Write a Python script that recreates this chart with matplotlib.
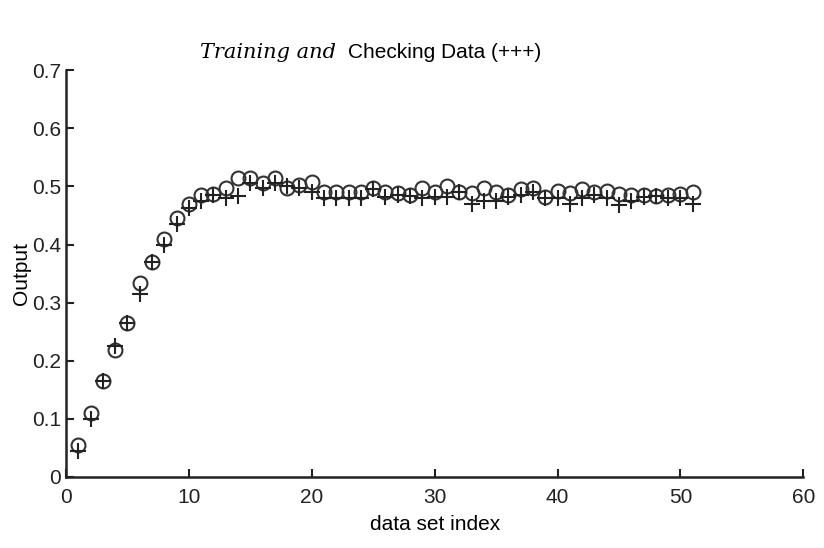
import matplotlib.pyplot as plt
import numpy as np

# indice dos dados
idx = np.arange(1, 52)

# checking data (o)
chk = [0.055, 0.11, 0.165, 0.218, 0.265, 0.333, 0.37, 0.41, 0.445, 0.47,
       0.485, 0.487, 0.498, 0.515, 0.515, 0.505, 0.515, 0.498, 0.502, 0.508,
       0.49, 0.49, 0.49, 0.49, 0.498, 0.49, 0.488, 0.485, 0.497, 0.49,
       0.5, 0.49, 0.488, 0.498, 0.49, 0.485, 0.495, 0.498, 0.482, 0.492,
       0.488, 0.495, 0.49, 0.492, 0.487, 0.485, 0.485, 0.484, 0.485, 0.487,
       0.49]

# training data (+)
trn = [0.045, 0.1, 0.165, 0.225, 0.265, 0.315, 0.37, 0.4, 0.435, 0.462,
       0.475, 0.485, 0.48, 0.483, 0.505, 0.498, 0.505, 0.5, 0.498, 0.49,
       0.48, 0.48, 0.48, 0.48, 0.495, 0.482, 0.485, 0.483, 0.48, 0.482,
       0.482, 0.49, 0.47, 0.475, 0.475, 0.482, 0.485, 0.49, 0.48, 0.48,
       0.47, 0.48, 0.485, 0.48, 0.468, 0.475, 0.482, 0.483, 0.48, 0.48,
       0.47]

plt.rcParams['font.family'] = ['Liberation Sans', 'DejaVu Sans']

fig = plt.figure(figsize=(8.24, 5.48), dpi=100)
ax = fig.add_axes([0.080, 0.1296, 0.895, 0.7424])

ax.plot(idx, chk, 'o', mfc='none', mec='#333333', ms=10, mew=1.5)
ax.plot(idx, trn, '+', color='#222222', ms=11, mew=1.5)

ax.set_xlim(0, 60)
ax.set_ylim(0, 0.7)
ax.set_xticks(np.arange(0, 61, 10))
ax.set_yticks(np.arange(0, 0.71, 0.1))
ax.set_yticklabels(["0", "0.1", "0.2", "0.3", "0.4", "0.5", "0.6", "0.7"])
ax.tick_params(direction='in', labelsize=15, length=6, width=1.5, colors='#222222')
ax.tick_params(axis='x', pad=8)
for s in ['top', 'right']:
    ax.spines[s].set_visible(False)
for s in ['left', 'bottom']:
    ax.spines[s].set_linewidth(1.8)
    ax.spines[s].set_color('#222222')

ax.set_xlabel("data set index", fontsize=15, labelpad=6)
ax.set_ylabel("Output", fontsize=15, labelpad=1)

fig.text(0.243, 0.895, "Training and", fontsize=15, style='italic',
         family=['DejaVu Serif'])
fig.text(0.422, 0.895, "Checking Data (+++)", fontsize=15)

fig.savefig("out.png")
